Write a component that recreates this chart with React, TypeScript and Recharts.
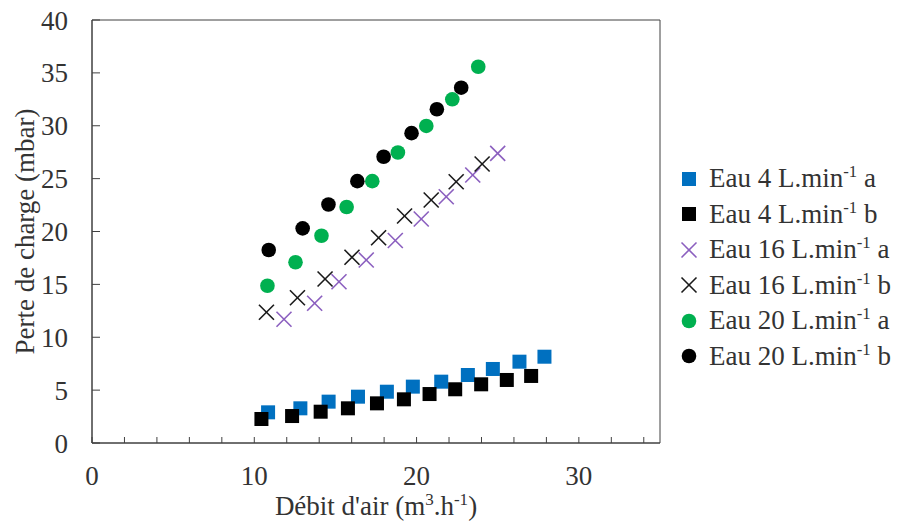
import { ScatterChart, Scatter, XAxis, YAxis, ReferenceArea } from "recharts";

// Débit d'air (m3/h) and perte de charge (mbar)
const eau4aX = [10.85, 12.84, 14.58, 16.39, 18.17, 19.77, 21.52, 23.16, 24.7, 26.34, 27.88];
const eau4aY = [2.9, 3.28, 3.91, 4.38, 4.85, 5.33, 5.8, 6.43, 7.0, 7.69, 8.16];
const eau4bX = [10.44, 12.33, 14.09, 15.77, 17.56, 19.22, 20.8, 22.38, 23.98, 25.56, 27.06];
const eau4bY = [2.27, 2.55, 2.96, 3.28, 3.75, 4.13, 4.63, 5.08, 5.55, 5.96, 6.34];
const eau16aX = [11.83, 13.72, 15.22, 16.9, 18.69, 20.29, 21.83, 23.46, 25.0];
const eau16aY = [11.7, 13.21, 15.25, 17.3, 19.15, 21.18, 23.29, 25.34, 27.39];
const eau16bX = [10.75, 12.66, 14.36, 16.02, 17.66, 19.26, 20.9, 22.44, 24.04];
const eau16bY = [12.36, 13.74, 15.51, 17.56, 19.41, 21.47, 22.98, 24.71, 26.38];
const eau20aX = [10.81, 12.54, 14.14, 15.69, 17.27, 18.85, 20.6, 22.2, 23.8];
const eau20aY = [14.87, 17.09, 19.6, 22.32, 24.76, 27.47, 29.98, 32.5, 35.58];
const eau20bX = [10.89, 12.98, 14.57, 16.35, 17.97, 19.69, 21.25, 22.75];
const eau20bY = [18.25, 20.3, 22.55, 24.76, 27.07, 29.3, 31.56, 33.6];

const xTicks = [0, 2, 4, 6, 8, 10, 12, 14, 16, 18, 20, 22, 24, 26, 28, 30, 32, 34];
const yTicks = [0, 5, 10, 15, 20, 25, 30, 35, 40];

const FONT = "'Liberation Serif', 'Times New Roman', serif";
const TEXT = "#333333";
const LINE = "#404040";

const zip = (xs: number[], ys: number[]) => xs.map((x, i) => ({ x, y: ys[i] }));

type Kind = "square" | "cross" | "circle";

const Marker = ({ kind, color, cx, cy }: { kind: Kind; color: string; cx: number; cy: number }) => {
  if (kind === "square") return <rect x={cx - 7} y={cy - 7} width={14} height={14} fill={color} />;
  if (kind === "circle") return <circle cx={cx} cy={cy} r={7.3} fill={color} />;
  return (
    <g stroke={color} strokeWidth={1.6}>
      <line x1={cx - 7.5} y1={cy - 7.5} x2={cx + 7.5} y2={cy + 7.5} />
      <line x1={cx - 7.5} y1={cy + 7.5} x2={cx + 7.5} y2={cy - 7.5} />
    </g>
  );
};

const series = [
  { name: "Eau 4 L.min", tag: "a", kind: "square" as Kind, color: "#0070C0", data: zip(eau4aX, eau4aY) },
  { name: "Eau 4 L.min", tag: "b", kind: "square" as Kind, color: "#000000", data: zip(eau4bX, eau4bY) },
  { name: "Eau 16 L.min", tag: "a", kind: "cross" as Kind, color: "#8B5FBF", data: zip(eau16aX, eau16aY) },
  { name: "Eau 16 L.min", tag: "b", kind: "cross" as Kind, color: "#1a1a1a", data: zip(eau16bX, eau16bY) },
  { name: "Eau 20 L.min", tag: "a", kind: "circle" as Kind, color: "#00B050", data: zip(eau20aX, eau20aY) },
  { name: "Eau 20 L.min", tag: "b", kind: "circle" as Kind, color: "#000000", data: zip(eau20bX, eau20bY) },
];

const ChartLegend = () => (
  <div style={{ position: "absolute", left: 680, top: 161, fontFamily: FONT, fontSize: 27, color: TEXT }}>
    {series.map((s, i) => (
      <div key={i} style={{ height: 35.5, display: "flex", alignItems: "center", whiteSpace: "nowrap" }}>
        <svg width={18} height={18} style={{ marginRight: 11 }}>
          <Marker kind={s.kind} color={s.color} cx={9} cy={9} />
        </svg>
        <span>
          {s.name}
          <span style={{ fontSize: "0.62em", position: "relative", top: "-0.6em" }}>-1</span> {s.tag}
        </span>
      </div>
    ))}
  </div>
);

const XTitle = ({ viewBox }: any) => {
  const cx = viewBox.x + viewBox.width / 2;
  return (
    <text x={cx} y={viewBox.y + 72} textAnchor="middle" fontFamily={FONT} fontSize={27} fill={TEXT}>
      <tspan>Débit d'air (m</tspan>
      <tspan dy={-10} fontSize={17}>3</tspan>
      <tspan dy={10}>.h</tspan>
      <tspan dy={-10} fontSize={17}>-1</tspan>
      <tspan dy={10}>)</tspan>
    </text>
  );
};

const YTitle = ({ viewBox }: any) => {
  const cy = viewBox.y + viewBox.height / 2;
  return (
    <text
      x={25}
      y={cy}
      transform={`rotate(-90 25 ${cy})`}
      textAnchor="middle"
      dominantBaseline="central"
      fontFamily={FONT}
      fontSize={27}
      fill={TEXT}
    >
      Perte de charge (mbar)
    </text>
  );
};

export default function App() {
  return (
    <div style={{ position: "absolute", left: 0, top: 0, width: 897, height: 524, background: "#fff" }}>
      <ScatterChart width={897} height={524} margin={{ top: 20, right: 237, bottom: 0, left: 0 }}>
        <XAxis
          type="number"
          dataKey="x"
          domain={[0, 35]}
          ticks={xTicks}
          tickFormatter={(v: number) => (v % 10 === 0 ? String(v) : "")}
          height={81}
          tickSize={-6}
          tickMargin={29}
          stroke={LINE}
          tick={{ fill: TEXT, fontSize: 27, fontFamily: FONT }}
          label={<XTitle />}
        />
        <YAxis
          type="number"
          dataKey="y"
          domain={[0, 40]}
          ticks={yTicks}
          width={92}
          tickSize={-8}
          tickMargin={32}
          stroke={LINE}
          tick={{ fill: TEXT, fontSize: 27, fontFamily: FONT }}
          label={<YTitle />}
        />
        <ReferenceArea x1={0} x2={35} y1={0} y2={40} fill="none" stroke={LINE} strokeWidth={1} />
        {series.map((s, i) => (
          <Scatter
            key={i}
            name={`${s.name} ${s.tag}`}
            data={s.data}
            isAnimationActive={false}
            shape={(p: any) => <Marker kind={s.kind} color={s.color} cx={p.cx} cy={p.cy} />}
          />
        ))}
      </ScatterChart>
      <ChartLegend />
    </div>
  );
}
